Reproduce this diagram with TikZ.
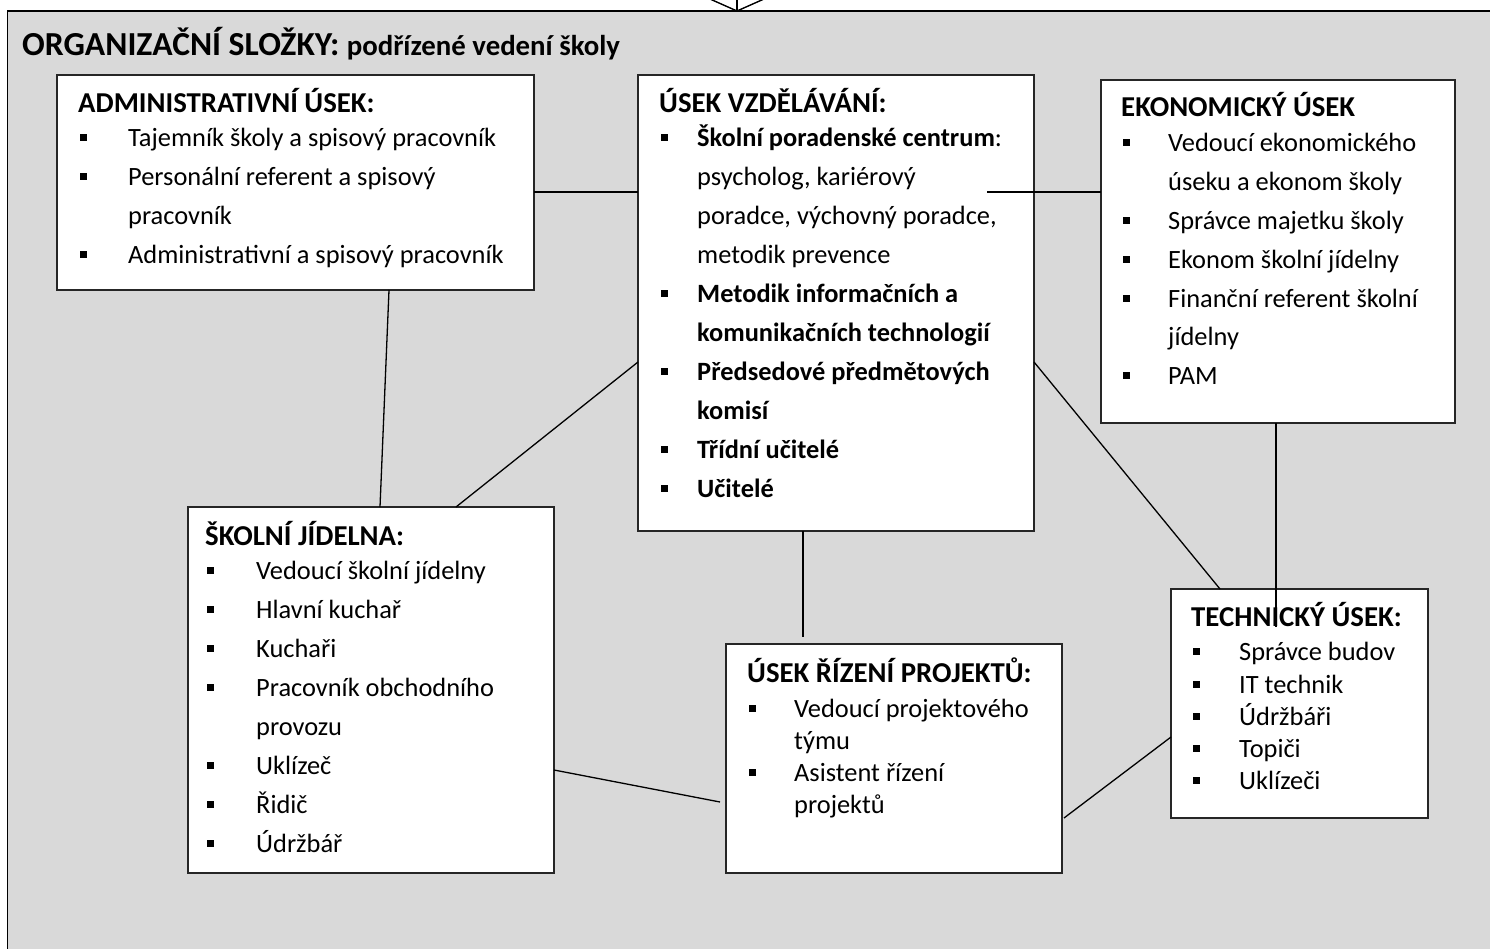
\documentclass[tikz,border=0pt]{standalone}
\usepackage{fontspec}
\setmainfont{Carlito}
\definecolor{bg}{HTML}{D9D9D9}
\newlength\db \newlength\dt
\newcommand\bul{\raisebox{5.5pt}{\rule{7pt}{7pt}}}
\newcommand\stk[1]{\vtop{\offinterlineskip#1}}
\newcommand\hd[1]{\hbox{\smash{\bfseries\fontsize{28.8}{30}\selectfont #1}}}
\newcommand\bi[2]{\kern#1\hbox{\smash{\rlap{\hskip\db\relax\bul}\hskip\dt\relax #2}}}
\newcommand\ci[2]{\kern#1\hbox{\smash{\hskip\dt\relax #2}}}
\begin{document}
\begin{tikzpicture}[x=1pt,y=-1pt,
  box/.style={draw=black!85, line width=1.4pt, fill=white, inner sep=0pt, outer sep=0pt, anchor=north west},
  conn/.style={draw=black, line width=1.3pt},
  txt/.style={anchor=base west, inner sep=0pt, font=\fontsize{26.4}{30}\selectfont}]
\useasboundingbox (0,0) rectangle (1490,949);
% background panel and arrow
\draw[line width=1.4pt, fill=bg] (7.5,11) rectangle (1510,970);
\draw[line width=1.4pt] (710,-1) -- (737,11) -- (764,-1);
\draw[line width=1.4pt] (737,-1) -- (737,11);
\node[anchor=base west, inner sep=0pt] (ttl) at (22,56)
  {\bfseries\fontsize{33.6}{36}\selectfont ORGANIZAČNÍ SLOŽKY: {\fontsize{28.8}{30}\selectfont podřízené vedení školy}};
% boxes
\node[box, minimum width=477pt, minimum height=215pt] (adm) at (57,75) {};
\node[box, minimum width=396pt, minimum height=456pt] (vzd) at (638,75) {};
\node[box, minimum width=354pt, minimum height=343pt] (eko) at (1101,80) {};
\node[box, minimum width=366pt, minimum height=366pt] (jid) at (188,507) {};
\node[box, minimum width=336pt, minimum height=229pt] (prj) at (726,644) {};
\node[box, minimum width=257pt, minimum height=229pt] (tec) at (1171,589) {};
% connectors
\coordinate (lvl) at (987,192);
\draw[conn] (adm.east |- lvl) -- (vzd.west |- lvl);
\draw[conn] (lvl) -- (eko.west |- lvl);
\draw[conn] ([shift={(332,0)}]adm.south west) -- ([shift={(192,0)}]jid.north west);
\draw[conn] ([shift={(0,287)}]vzd.north west) -- ([shift={(268,0)}]jid.north west);
\draw[conn] ([shift={(165,0)}]vzd.south west) -- ([shift={(77,-7)}]prj.north west);
\draw[conn] ([shift={(0,263)}]jid.north east) -- ([shift={(-6,158)}]prj.north west);
\draw[conn] ([shift={(0,287)}]vzd.north east) -- ([shift={(49,0)}]tec.north west);
\draw[conn] ([shift={(175,0)}]eko.south west) -- ([shift={(105,38)}]tec.north west);
\draw[conn] ([shift={(0,148)}]tec.north west) -- ([shift={(2,174)}]prj.north east);
% texts
\node[txt] (admt) at (78,113) {\db=2pt\dt=50pt\stk{%
  \hd{ADMINISTRATIVNÍ ÚSEK:}%
  \bi{34pt}{Tajemník školy a spisový pracovník}%
  \bi{39pt}{Personální referent a spisový}%
  \ci{39pt}{pracovník}%
  \bi{39pt}{Administrativní a spisový pracovník}}};
\node[txt] (vzdt) at (659,113) {\db=2pt\dt=38pt\stk{%
  \hd{ÚSEK VZDĚLÁVÁNÍ:}%
  \bi{34pt}{\textbf{Školní poradenské centrum}:}%
  \ci{39pt}{psycholog, kariérový}%
  \ci{39pt}{poradce, výchovný poradce,}%
  \ci{39pt}{metodik prevence}%
  \bi{39pt}{\textbf{Metodik informačních a}}%
  \ci{39pt}{\textbf{komunikačních technologií}}%
  \bi{39pt}{\textbf{Předsedové předmětových}}%
  \ci{39pt}{\textbf{komisí}}%
  \bi{39pt}{\textbf{Třídní učitelé}}%
  \bi{39pt}{\textbf{Učitelé}}}};
\node[txt] (ekot) at (1121,117) {\db=2pt\dt=47pt\stk{%
  \hd{EKONOMICKÝ ÚSEK}%
  \bi{35pt}{Vedoucí ekonomického}%
  \ci{38.8pt}{úseku a ekonom školy}%
  \bi{38.8pt}{Správce majetku školy}%
  \bi{38.8pt}{Ekonom školní jídelny}%
  \bi{38.8pt}{Finanční referent školní}%
  \ci{38.8pt}{jídelny}%
  \bi{38.8pt}{PAM}}};
\node[txt] (jidt) at (205,545) {\db=2pt\dt=51pt\stk{%
  \hd{ŠKOLNÍ JÍDELNA:}%
  \bi{34pt}{Vedoucí školní jídelny}%
  \bi{39pt}{Hlavní kuchař}%
  \bi{39pt}{Kuchaři}%
  \bi{39pt}{Pracovník obchodního}%
  \ci{39pt}{provozu}%
  \bi{39pt}{Uklízeč}%
  \bi{39pt}{Řidič}%
  \bi{39pt}{Údržbář}}};
\node[txt] (prjt) at (747,682) {\db=2pt\dt=47pt\stk{%
  \hd{ÚSEK ŘÍZENÍ PROJEKTŮ:}%
  \bi{35pt}{Vedoucí projektového}%
  \ci{32pt}{týmu}%
  \bi{32pt}{Asistent řízení}%
  \ci{32pt}{projektů}}};
\node[txt] (tect) at (1191,626) {\db=2pt\dt=48pt\stk{%
  \hd{TECHNICKÝ ÚSEK:}%
  \bi{34.7pt}{Správce budov}%
  \bi{32.3pt}{IT technik}%
  \bi{32.3pt}{Údržbáři}%
  \bi{32.3pt}{Topiči}%
  \bi{32.3pt}{Uklízeči}}};
\end{tikzpicture}
\end{document}
